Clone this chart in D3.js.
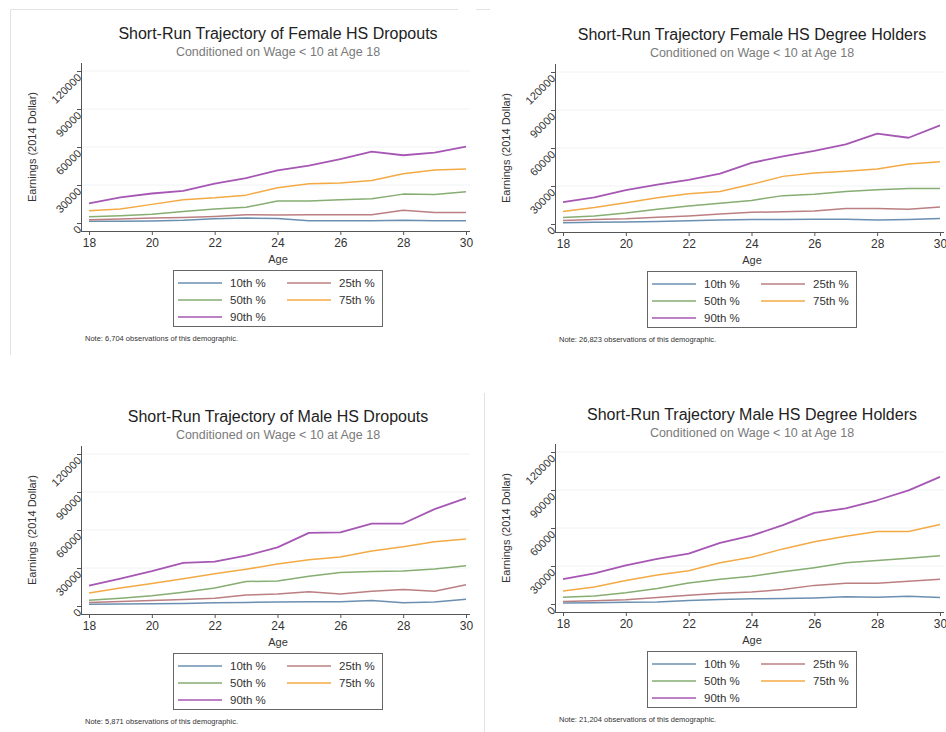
<!DOCTYPE html>
<html>
<head>
<meta charset="utf-8">
<script src="https://cdn.jsdelivr.net/npm/d3@7"></script>
<style>
  body { margin: 0; background: #fff; }
  svg { display: block; font-family: "Liberation Sans", Arial, sans-serif; }
</style>
</head>
<body>
<svg id="chart" width="946" height="732"></svg>
<script>
// ages on the x axis
const ages = [18, 19, 20, 21, 22, 23, 24, 25, 26, 27, 28, 29, 30];
const yTicks = [0, 30000, 60000, 90000, 120000];
const xTicks = [18, 20, 22, 24, 26, 28, 30];
const seriesNames = ['10th %', '25th %', '50th %', '75th %', '90th %'];
const seriesColors = ['#6b8fb0', '#bb7f82', '#86ad72', '#f3aa45', '#a657b4'];

// Female HS dropouts
const femDrop10 = [1300, 1300, 1600, 2100, 3400, 3900, 3600, 1800, 1800, 1800, 2100, 1800, 1800];
const femDrop25 = [2600, 3100, 3900, 4400, 5200, 6500, 6300, 6500, 6500, 6500, 10100, 8300, 8300];
const femDrop50 = [4900, 5700, 7000, 9000, 11100, 12400, 17300, 17300, 18400, 19100, 22800, 22500, 24600];
const femDrop75 = [9600, 11100, 14700, 18400, 19900, 22000, 27900, 31000, 31500, 33600, 38800, 41900, 42700];
const femDrop90 = [15500, 20200, 23300, 25300, 31000, 35400, 41600, 45300, 50400, 56400, 53500, 55600, 60300];

// Female HS degree holders
const femDeg10 = [1000, 1300, 1500, 2000, 2500, 3100, 3600, 3600, 3800, 3800, 3100, 3600, 4300];
const femDeg25 = [2800, 3600, 4100, 5300, 6400, 7900, 9200, 9700, 10200, 12200, 12200, 11700, 13500];
const femDeg50 = [5100, 6400, 8600, 11700, 14200, 16300, 18600, 22400, 23400, 25700, 27000, 28000, 28000];
const femDeg75 = [9900, 13000, 16800, 20800, 23900, 25700, 31300, 37600, 40200, 41700, 43500, 47300, 49100];
const femDeg90 = [17300, 21100, 26700, 31000, 34800, 39700, 48300, 53400, 57700, 62800, 71400, 68100, 77800];

// Male HS dropouts
const maleDrop10 = [1300, 1500, 1800, 2000, 2500, 2800, 3100, 3300, 3300, 4300, 2500, 3100, 5300];
const maleDrop25 = [2800, 3600, 4300, 5100, 6100, 8600, 9400, 11200, 9400, 11700, 13000, 11700, 16800];
const maleDrop50 = [4600, 6100, 8100, 10900, 14200, 19300, 19800, 23400, 26400, 27200, 27700, 29200, 31800];
const maleDrop75 = [10200, 14200, 17800, 21600, 25400, 29000, 33100, 36600, 38600, 43500, 46800, 50800, 52900];
const maleDrop90 = [16000, 21600, 27500, 34100, 35100, 39700, 46300, 57700, 58200, 65100, 65100, 76500, 85200];

// Male HS degree holders
const maleDeg10 = [800, 1000, 1300, 1500, 2800, 3600, 4100, 4300, 4800, 5800, 5300, 6100, 5100];
const maleDeg25 = [2000, 2500, 3300, 5100, 6900, 8400, 9400, 11400, 14700, 16300, 16300, 18000, 19600];
const maleDeg50 = [5300, 6400, 8900, 12200, 16500, 19600, 21900, 25400, 28700, 32500, 34300, 36100, 38100];
const maleDeg75 = [10200, 13500, 18600, 22900, 26200, 32500, 36900, 43500, 49100, 53400, 57200, 57200, 62800];
const maleDeg90 = [19600, 24200, 30500, 35600, 39700, 48300, 53900, 62300, 71900, 75500, 81900, 89700, 100400];

const panels = [
  { title: 'Short-Run Trajectory of Female HS Dropouts', note: 'Note: 6,704 observations of this demographic.',
    series: [femDrop10, femDrop25, femDrop50, femDrop75, femDrop90], ox: 0, oy: 0 },
  { title: 'Short-Run Trajectory Female HS Degree Holders', note: 'Note: 26,823 observations of this demographic.',
    series: [femDeg10, femDeg25, femDeg50, femDeg75, femDeg90], ox: 474, oy: 1 },
  { title: 'Short-Run Trajectory of Male HS Dropouts', note: 'Note: 5,871 observations of this demographic.',
    series: [maleDrop10, maleDrop25, maleDrop50, maleDrop75, maleDrop90], ox: 0, oy: 383 },
  { title: 'Short-Run Trajectory Male HS Degree Holders', note: 'Note: 21,204 observations of this demographic.',
    series: [maleDeg10, maleDeg25, maleDeg50, maleDeg75, maleDeg90], ox: 474, oy: 381 }
];

const subtitle = 'Conditioned on Wage < 10 at Age 18';
const svg = d3.select('#chart');

// faint page frames from the screenshot
svg.append('path').attr('d', 'M10.5,355 V9.5 H458').attr('fill', 'none').attr('stroke', '#e2e2e2');
svg.append('path').attr('d', 'M476,9.5 H490').attr('fill', 'none').attr('stroke', '#e2e2e2');
svg.append('path').attr('d', 'M484.5,393 V732').attr('fill', 'none').attr('stroke', '#e2e2e2');

const axisX = 81;
const x = d3.scaleLinear().domain([18, 30]).range([89, 466]);
const y = d3.scaleLinear().domain([0, 120000]).range([223, 71]);

panels.forEach(p => {
  const g = svg.append('g').attr('transform', `translate(${p.ox},${p.oy})`);

  g.append('text').attr('x', 278).attr('y', 39).attr('text-anchor', 'middle')
    .attr('font-size', 16).attr('fill', '#222').text(p.title);
  g.append('text').attr('x', 278).attr('y', 56).attr('text-anchor', 'middle')
    .attr('font-size', 12.5).attr('fill', '#7a7a7a').text(subtitle);

  // grid
  g.selectAll('line.grid').data(yTicks.slice(1)).join('line').attr('class', 'grid')
    .attr('x1', axisX).attr('x2', 470).attr('y1', d => y(d)).attr('y2', d => y(d))
    .attr('stroke', '#eef2f5').attr('stroke-width', 1);

  // y axis
  const ya = g.append('g').attr('transform', `translate(${axisX},0)`)
    .call(d3.axisLeft(y).tickValues(yTicks).tickSize(4).tickSizeOuter(0).tickFormat(d3.format('d')));
  ya.select('.domain').attr('d', 'M0.5,63V231').attr('stroke', '#555');
  ya.selectAll('.tick line').attr('stroke', '#555');
  ya.selectAll('.tick text').attr('font-size', 11).attr('fill', '#333')
    .attr('font-family', '"Liberation Sans", Arial, sans-serif')
    .attr('x', -4).attr('dy', '0.5em').attr('text-anchor', 'end').attr('transform', 'rotate(-45)');

  // x axis
  const xa = g.append('g').attr('transform', 'translate(0,231)')
    .call(d3.axisBottom(x).tickValues(xTicks).tickSize(4).tickSizeOuter(0));
  xa.select('.domain').attr('d', `M${axisX},0.5H470`).attr('stroke', '#555');
  xa.selectAll('.tick line').attr('stroke', '#555');
  xa.selectAll('.tick text').attr('font-size', 12).attr('fill', '#333')
    .attr('font-family', '"Liberation Sans", Arial, sans-serif').attr('y', 7);

  g.append('text').attr('x', 278).attr('y', 263).attr('text-anchor', 'middle')
    .attr('font-size', 11).attr('fill', '#333').text('Age');
  g.append('text').attr('transform', 'translate(36,147) rotate(-90)').attr('text-anchor', 'middle')
    .attr('font-size', 11).attr('fill', '#333').text('Earnings (2014 Dollar)');

  // lines
  const line = d3.line().x((d, i) => x(ages[i])).y(d => y(d));
  g.selectAll('path.series').data(p.series).join('path').attr('class', 'series')
    .attr('d', line).attr('fill', 'none')
    .attr('stroke', (d, i) => seriesColors[i]).attr('stroke-width', (d, i) => i === 4 ? 1.8 : 1.5)
    .attr('stroke-linejoin', 'round');

  // legend
  const lg = g.append('g');
  lg.append('rect').attr('x', 173.5).attr('y', 270.5).attr('width', 209).attr('height', 56)
    .attr('fill', '#fff').attr('stroke', '#666');
  const items = lg.selectAll('g.item').data(seriesNames).join('g').attr('class', 'item')
    .attr('transform', (d, i) => `translate(${i % 2 ? 287 : 178},${283 + Math.floor(i / 2) * 17})`);
  items.append('line').attr('x1', 0).attr('x2', 44).attr('stroke', (d, i) => seriesColors[i])
    .attr('stroke-width', 1.5);
  items.append('text').attr('x', 52).attr('dy', '0.35em').attr('font-size', 11.5)
    .attr('fill', '#333').text(d => d);

  g.append('text').attr('x', 85).attr('y', 341).attr('font-size', 7.5).attr('fill', '#333').text(p.note);
});
</script>
</body>
</html>
